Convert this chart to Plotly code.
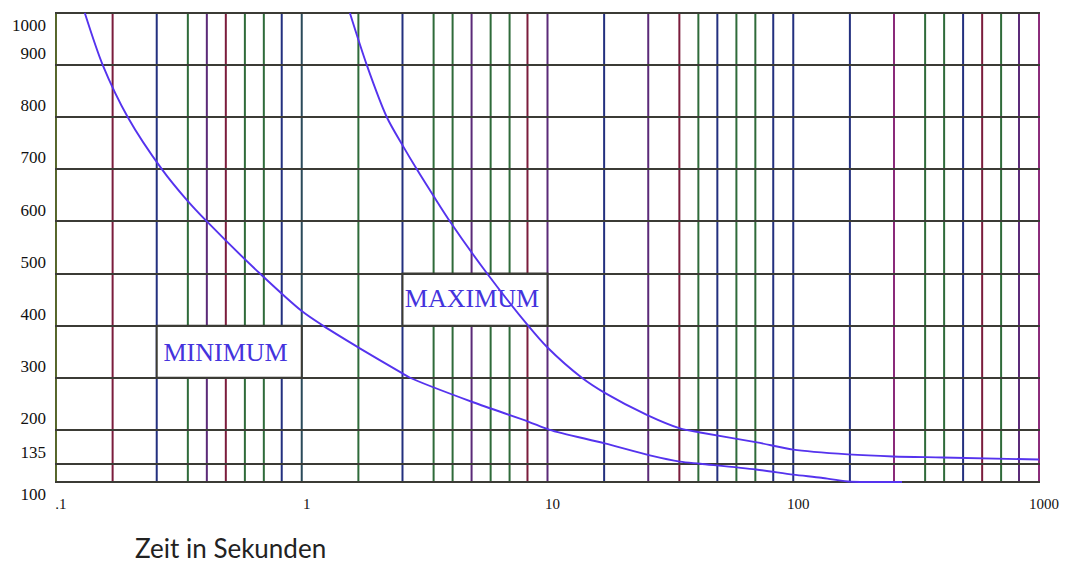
import numpy as np
import plotly.graph_objects as go

# ---- data ----
min_t = [0.131, 0.155, 0.196, 0.27, 0.341, 0.411, 0.676, 1.0, 1.22, 1.73, 2.58, 2.76,
         4.98, 8.34, 10.2, 17.1, 26.1, 34.6, 41.8, 70.5, 100, 130, 167, 277]
min_v = [1000, 900, 800, 700, 641, 600, 500, 428, 400, 356, 308, 300,
         253, 216, 200, 174, 151, 139, 135, 124, 114, 108, 101, 100]

max_t = [1.57, 1.84, 2.22, 2.58, 2.94, 3.48, 4.01, 5.68, 8.34, 10, 13.8, 17.1,
         25.6, 34.6, 41.8, 71.2, 100, 167, 255, 406, 1000]
max_v = [1000, 900, 800, 745, 700, 645, 600, 500, 400, 358, 300, 271,
         228, 203, 195, 176, 162, 153, 149, 147, 143]

x_tickvals = [0.1, 1, 10, 100, 1000]
x_ticktext = [".1", "1", "10", "100", "1000"]
y_tickvals = [100, 135, 200, 300, 400, 500, 600, 700, 800, 900, 1000]
y_ticktext = ["", "135", "200", "300", "400", "500", "600", "700", "800", "900", ""]
y_edge_vals = [100, 1000]
y_edge_text = ["100", "1000"]

labels = ["MINIMUM", "MAXIMUM"]
label_t = [0.49, 4.93]
label_v = [344, 448]
box_t0 = [0.257, 2.57]
box_t1 = [1, 10]
box_v0 = [300, 400]
box_v1 = [400, 500]

grid_mantissas = [1, 1.70, 2.57, 3.44, 4.11, 4.91, 5.87, 7.01, 8.29]
grid_decades = [0.1, 1, 10, 100]

# ---- styles ----
MAROON = "#7b1c3c"
NAVY = "#23307f"
GREEN = "#2f6b3a"
PURPLE = "#5b2a78"
OLIVE = "#55652a"
MAGENTA = "#8a2a7a"
grid_colors = [
    OLIVE, MAROON, NAVY, GREEN, PURPLE, MAROON, GREEN, GREEN, NAVY,
    "#2a4a5a", GREEN, NAVY, GREEN, GREEN, PURPLE, GREEN, GREEN, MAROON,
    PURPLE, NAVY, PURPLE, MAROON, GREEN, NAVY, GREEN, GREEN, NAVY,
    NAVY, NAVY, MAGENTA, GREEN, GREEN, NAVY, MAROON, GREEN, PURPLE,
    MAGENTA,
]
HGRID = "#3b3b35"
CURVE = "#5533ee"
LABEL = "#4433dd"
TICKFONT_Y = dict(family="Liberation Serif", size=17, color="#111")
Y_RANGE = [98, 1002]

grid_x = [d * m for d in grid_decades for m in grid_mantissas] + [1000]

shapes = []
for i, gx in enumerate(grid_x):
    shapes.append(dict(type="line", xref="x", yref="paper", x0=gx, x1=gx, y0=0, y1=1,
                       line=dict(color=grid_colors[i % len(grid_colors)], width=2),
                       layer="below"))
for t0, t1, v0, v1 in zip(box_t0, box_t1, box_v0, box_v1):
    shapes.append(dict(type="rect", xref="x", yref="y", x0=t0, x1=t1, y0=v0, y1=v1,
                       fillcolor="white", line=dict(color=HGRID, width=2), layer="below"))

fig = go.Figure()
fig.add_trace(go.Scatter(x=label_t, y=label_v, mode="text", text=labels,
                         textfont=dict(family="Liberation Serif", size=26, color=LABEL),
                         hoverinfo="skip", showlegend=False))
fig.add_trace(go.Scatter(x=min_t, y=min_v, mode="lines",
                         line=dict(color=CURVE, width=1.9, shape="spline", smoothing=0.8),
                         showlegend=False))
fig.add_trace(go.Scatter(x=max_t, y=max_v, mode="lines", yaxis="y2",
                         line=dict(color=CURVE, width=1.9, shape="spline", smoothing=0.8),
                         showlegend=False))

fig.update_layout(
    width=1075, height=564,
    margin=dict(l=55, r=35, t=12, b=81),
    paper_bgcolor="white", plot_bgcolor="white",
    shapes=shapes,
    showlegend=False,
    xaxis=dict(type="log", range=[np.log10(0.1) - 0.004, 3.004],
               tickmode="array", tickvals=x_tickvals, ticktext=x_ticktext,
               showgrid=False, zeroline=False, showline=False, ticks="",
               tickfont=dict(family="Liberation Serif", size=15, color="#111"),
               ticklabelstandoff=10, ticklabelshift=5),
    yaxis=dict(range=Y_RANGE, tickmode="array", tickvals=y_tickvals, ticktext=y_ticktext,
               showgrid=True, gridcolor=HGRID, gridwidth=2, zeroline=False, showline=False,
               ticks="", tickfont=TICKFONT_Y,
               ticklabelposition="outside top", ticklabelstandoff=8),
    yaxis2=dict(range=Y_RANGE, overlaying="y", side="left", anchor="x",
                tickmode="array", tickvals=y_edge_vals, ticktext=y_edge_text,
                showgrid=False, zeroline=False, showline=False, ticks="",
                tickfont=TICKFONT_Y, ticklabelposition="outside bottom", ticklabelstandoff=8),
    annotations=[dict(text="Zeit in Sekunden", xref="paper", yref="paper", x=0.079, y=-0.137,
                      xanchor="left", yanchor="middle", showarrow=False,
                      font=dict(family="Lato", size=26, color="#222"))],
)

fig.write_html("out.html", config={"displayModeBar": False},
               post_script="document.body.style.margin='0px';document.body.style.overflow='hidden';")
